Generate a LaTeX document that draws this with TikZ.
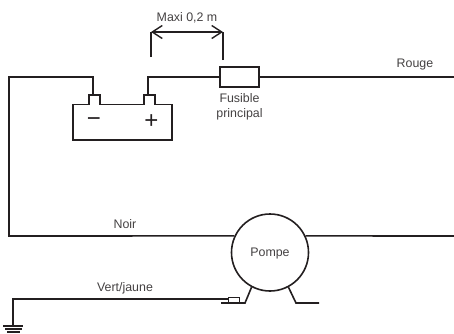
\documentclass[tikz,border=0pt]{standalone}
\usepackage{fontspec}
\setmainfont{Liberation Sans}
\usetikzlibrary{arrows.meta, positioning}
\definecolor{wirecol}{HTML}{231F20}
\newcommand{\lbl}{\fontsize{12.4}{15}\selectfont}
\begin{document}
\begin{tikzpicture}[x=1pt, y=-1pt,
    wire/.style={draw=wirecol, line width=1.6pt, line join=miter},
    tick/.style={draw=wirecol, line width=1.4pt},
    txt/.style={font=\lbl, text=wirecol!85, inner sep=0pt, align=center},
    sign/.style={font=\fontsize{24}{24}\selectfont, text=wirecol, inner sep=0pt},
]
\useasboundingbox (0,0) rectangle (454,333);

\node (fuse) [wire, fill=white, minimum width=39pt, minimum height=20pt, inner sep=0pt] at (239.5,77) {};
\node (pump) [wire, circle, minimum size=77pt, inner sep=0pt, font=\lbl, text=wirecol!85, text depth=0pt] at (270,252.5) {Pompe};
\node (lug) [draw=wirecol, line width=1pt, minimum width=11pt, minimum height=6pt, inner sep=0pt] at (233.5,300) {};

\coordinate (bminus) at (93,95);
\coordinate (bplus) at (148,95);
\coordinate (topleft) at (9,77);
\coordinate (botleft) at (9,236);
\coordinate (redend) at (454,77);
\coordinate (pumpend) at (454,236);
\coordinate (gndtop) at (13,299);
\coordinate (gnd) at (13,326);

% battery
\draw[wire] (73,104.5) -- (89,104.5) -- (89,95) -- (100,95) -- (100,104.5)
    -- (144,104.5) -- (144,95) -- (155,95) -- (155,104.5) -- (172,104.5)
    -- (172,140) -- (73,140) -- cycle;
\node (minus) [sign] at (94,122) {\textminus};
\node (plus) [sign] at (151.5,121.5) {+};

% wires
\draw[wire] (bminus) -- (bminus |- topleft) -- (topleft) -- (botleft) -- (pump.155);
\draw[wire] (bplus) -- (bplus |- fuse.west) -- (fuse.west);
\draw[wire] (fuse.east) -- (redend);
\draw[wire] (pump.25) -- (pumpend);
\draw[wire] (lug.west |- gndtop) -- (gndtop) -- (gnd);

% feet
\coordinate (footl) at (245,303);
\coordinate (footr) at (296,303);
\coordinate (footlend) at (221,303);
\coordinate (footrend) at (319,303);
\draw[wire] (pump.-118) -- (footl) -- (footlend);
\draw[wire] (pump.-62) -- (footr) -- (footrend);

% ground
\coordinate (gnda) at (3,326);
\coordinate (gndb) at (23,326);
\coordinate (gndc) at (5,329);
\coordinate (gndd) at (22,329);
\coordinate (gnde) at (7,332);
\coordinate (gndf) at (20,332);
\draw[wire] (gnda) -- (gndb);
\draw[wire] (gndc) -- (gndd);
\draw[wire] (gnde) -- (gndf);

% dimension
\coordinate (dimlb) at (151,57);
\coordinate (dimrb) at (223,60);
\coordinate (dimlt) at (151,32);
\coordinate (dimrt) at (223,32);
\draw[tick] (dimlb) -- (dimlt);
\draw[tick] (dimrb) -- (dimrt);
\draw[tick, {Straight Barb[length=10pt, width=13pt]}-{Straight Barb[length=10pt, width=13pt]}] (dimlt) -- (dimrt);

\node (maxi) [txt] at (187,18) {Maxi 0,2 m};
\node (fusible) [txt, below=6pt of fuse] {Fusible\\principal};
\node (rouge) [txt] at (415,65) {Rouge};
\node (noir) [txt] at (125,224) {Noir};
\node (vert) [txt] at (125,288) {Vert/jaune};
\end{tikzpicture}
\end{document}
